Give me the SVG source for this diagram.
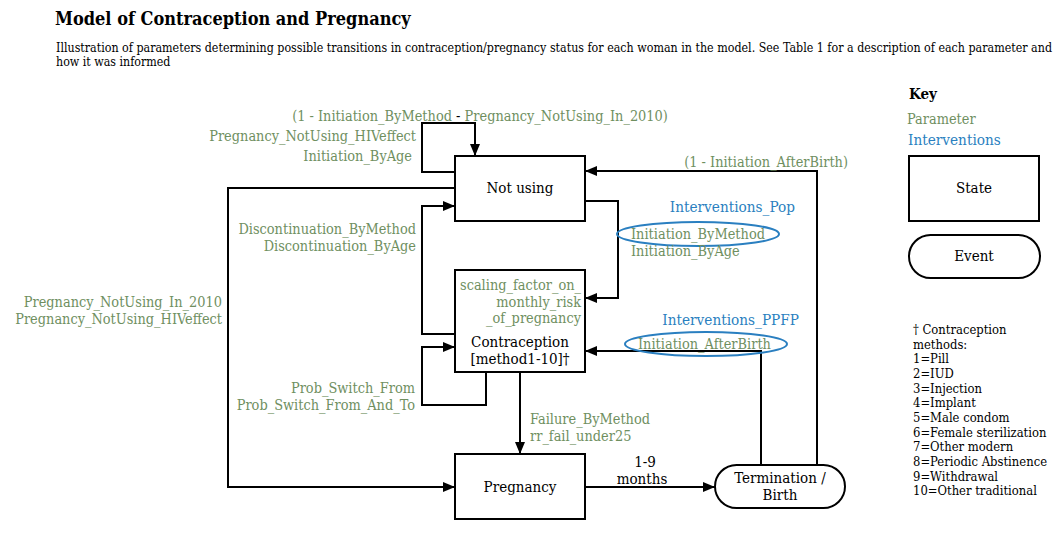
<svg xmlns="http://www.w3.org/2000/svg" width="1055" height="538" viewBox="0 0 1055 538">
<defs>
<marker id="ah" viewBox="0 0 12 10" refX="12" refY="5" markerWidth="12" markerHeight="10" markerUnits="userSpaceOnUse" orient="auto">
<path d="M0,0 L12,5 L0,10 Z" fill="#000"/>
</marker>
<style>
text{font-family:"DejaVu Serif",serif;font-stretch:condensed;}
.t{font-size:15px;fill:#000;}
.p{font-size:14.4px;fill:#6f8f5f;}
.i{font-size:15.2px;fill:#2a7fc0;}
.k{font-size:12.9px;fill:#000;}
.box{fill:#fff;stroke:#000;stroke-width:2;}
.c{fill:none;stroke:#000;stroke-width:2;}
.el{fill:none;stroke:#2a7fc0;stroke-width:2;}
</style>
</defs>
<rect width="1055" height="538" fill="#fff"/>
<text x="55" y="25" style="font-size:18px;font-weight:bold">Model of Contraception and Pregnancy</text>
<text x="56" y="52" style="font-size:12.3px" textLength="996" lengthAdjust="spacingAndGlyphs">Illustration of parameters determining possible transitions in contraception/pregnancy status for each woman in the model. See Table 1 for a description of each parameter and</text>
<text x="56" y="66" style="font-size:12.3px">how it was informed</text>

<g id="connectors">
<polyline class="c" points="455,172 422,172 422,123 475,123 475,156" marker-end="url(#ah)"/>
<polyline class="c" points="455,188 228,188 228,487 455,487" marker-end="url(#ah)"/>
<polyline class="c" points="455,334 422,334 422,206 455,206" marker-end="url(#ah)"/>
<polyline class="c" points="486,372 486,405 422,405 422,347 455,347" marker-end="url(#ah)"/>
<polyline class="c" points="585,201 618,201 618,298 585,298" marker-end="url(#ah)"/>
<polyline class="c" points="817,465 817,171 585,171" marker-end="url(#ah)"/>
<polyline class="c" points="761,465 761,351 585,351" marker-end="url(#ah)"/>
<polyline class="c" points="520,372 520,454" marker-end="url(#ah)"/>
<polyline class="c" points="585,487 715,487" marker-end="url(#ah)"/>
</g>

<g id="labels">
<text class="p" x="480" y="121" text-anchor="middle">(1 - Initiation_ByMethod <tspan fill="#000">-</tspan> Pregnancy_NotUsing_In_2010)</text>
<text class="p" x="416" y="141" text-anchor="end">Pregnancy_NotUsing_HIVeffect</text>
<text class="p" x="412" y="161" text-anchor="end">Initiation_ByAge</text>
<text class="p" x="416" y="234" text-anchor="end">Discontinuation_ByMethod</text>
<text class="p" x="416" y="251" text-anchor="end">Discontinuation_ByAge</text>
<text class="p" x="222" y="307" text-anchor="end">Pregnancy_NotUsing_In_2010</text>
<text class="p" x="222" y="324" text-anchor="end">Pregnancy_NotUsing_HIVeffect</text>
<text class="p" x="415" y="393" text-anchor="end">Prob_Switch_From</text>
<text class="p" x="415" y="410" text-anchor="end">Prob_Switch_From_And_To</text>
<text class="p" x="848" y="167" text-anchor="end">(1 - Initiation_AfterBirth)</text>
<text class="i" x="795" y="212" text-anchor="end">Interventions_Pop</text>
<ellipse class="el" cx="698" cy="234" rx="81" ry="12"/>
<text class="p" x="631" y="239">Initiation_ByMethod</text>
<text class="p" x="631" y="256">Initiation_ByAge</text>
<text class="i" x="799" y="325" text-anchor="end">Interventions_PPFP</text>
<ellipse class="el" cx="706" cy="344" rx="81" ry="12"/>
<text class="p" x="638" y="349">Initiation_AfterBirth</text>
<text class="p" x="530" y="424">Failure_ByMethod</text>
<text class="p" x="530" y="441">rr_fail_under25</text>
<text class="t" x="645" y="467" text-anchor="middle">1-9</text>
<text class="t" x="642" y="484" text-anchor="middle">months</text>
</g>

<g id="not-using">
<rect class="box" x="455" y="156" width="130" height="65"/>
<text class="t" x="520" y="193" text-anchor="middle">Not using</text>
</g>
<g id="contraception">
<rect class="box" x="455" y="270" width="130" height="102"/>
<text class="p" x="581" y="290" text-anchor="end">scaling_factor_on_</text>
<text class="p" x="581" y="307" text-anchor="end">monthly_risk</text>
<text class="p" x="581" y="323" text-anchor="end">_of_pregnancy</text>
<text class="t" x="520" y="347" text-anchor="middle">Contraception</text>
<text class="t" x="520" y="364" text-anchor="middle">[method1-10]†</text>
</g>
<g id="pregnancy">
<rect class="box" x="455" y="454" width="130" height="65"/>
<text class="t" x="520" y="492" text-anchor="middle">Pregnancy</text>
</g>
<g id="termination">
<rect class="box" x="715" y="465" width="130" height="43" rx="21.5" ry="21.5"/>
<text class="t" x="780" y="483" text-anchor="middle">Termination /</text>
<text class="t" x="780" y="500" text-anchor="middle">Birth</text>
</g>

<g id="key">
<text x="909" y="99" style="font-size:15px;font-weight:bold">Key</text>
<text class="p" x="907" y="124">Parameter</text>
<text class="i" x="908" y="145">Interventions</text>
<rect class="box" x="909" y="156" width="130" height="65"/>
<text class="t" x="974" y="193" text-anchor="middle">State</text>
<rect class="box" x="909" y="235" width="131" height="43" rx="21.5" ry="21.5"/>
<text class="t" x="974" y="261" text-anchor="middle">Event</text>
</g>

<g id="methods">
<text class="k" x="913" y="334">† Contraception</text>
<text class="k" x="913" y="349">methods:</text>
<text class="k" x="913" y="363">1=Pill</text>
<text class="k" x="913" y="378">2=IUD</text>
<text class="k" x="913" y="393">3=Injection</text>
<text class="k" x="913" y="407">4=Implant</text>
<text class="k" x="913" y="422">5=Male condom</text>
<text class="k" x="913" y="437">6=Female sterilization</text>
<text class="k" x="913" y="451">7=Other modern</text>
<text class="k" x="913" y="466">8=Periodic Abstinence</text>
<text class="k" x="913" y="481">9=Withdrawal</text>
<text class="k" x="913" y="495">10=Other traditional</text>
</g>
</svg>
